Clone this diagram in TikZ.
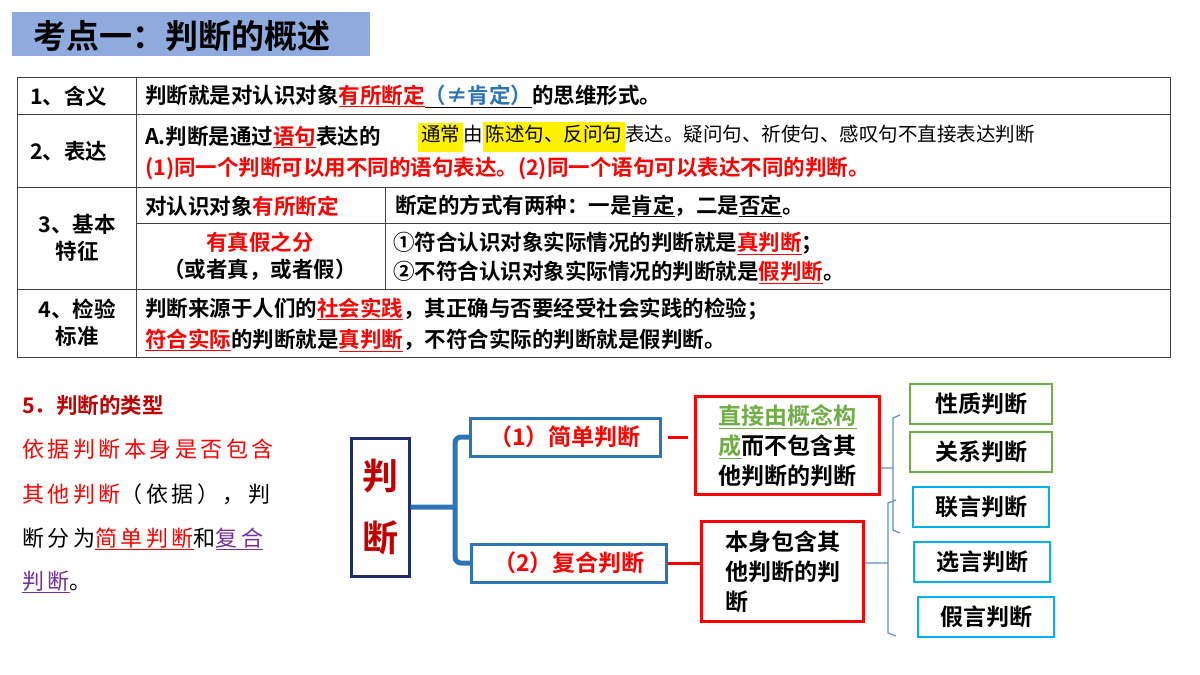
\documentclass[tikz,border=0pt]{standalone}
\usepackage{fontspec}
\setmainfont{Noto Sans CJK SC Bold}
\newfontfamily\cjkb{Noto Sans CJK SC Bold}
\newfontfamily\cjkm{Noto Sans CJK SC}
\newcommand\uline[1]{$\underline{\hbox{#1}}$}
\begin{document}
\begin{tikzpicture}[x=1pt,y=-1pt,
  tx/.style={anchor=west,inner sep=0pt,font=\cjkb\fontsize{21.5}{27}\selectfont},
  ln/.style={line width=1pt,draw=black!75},
  bx/.style={draw,line width=3pt,inner sep=0pt}]
\definecolor{dred}{HTML}{C00000}
\definecolor{rd}{HTML}{FF0000}
\definecolor{bl}{HTML}{2E75B6}
\definecolor{nv}{HTML}{1F2E6E}
\definecolor{gr}{HTML}{70AD47}
\definecolor{cy}{HTML}{00B0F0}
\definecolor{pu}{HTML}{7030A0}
\definecolor{ttl}{HTML}{8FAADC}
\newcommand\ru[1]{\textcolor{rd}{\uline{#1}}}
\newcommand\rr[1]{\textcolor{rd}{#1}}
\useasboundingbox (0,0) rectangle (1200,675);
\fill[white] (0,0) rectangle (1200,675);
% title
\node[fill=ttl,minimum width=358,minimum height=44,anchor=north west,inner sep=0] (ttl) at (12,12) {};
\node[anchor=west,inner sep=0,font=\cjkb\fontsize{33}{36}\selectfont] (ttlt) at (33,36) {考点一：判断的概述};
% table
\draw[ln] (17,77) rectangle (1170,357);
\foreach \y in {114,187,289} \draw[ln] (17,\y) -- (1170,\y);
\draw[ln] (136,223) -- (1170,223);
\draw[ln] (136,77) -- (136,357);
\draw[ln] (385,187) -- (385,289);
\node[tx] (r1) at (30,96) {1、含义};
\node[tx] (r2) at (30,151) {2、表达};
\node[tx,align=center,anchor=center] (r3) at (77,238) {3、基本\\特征};
\node[tx,align=center,anchor=center] (r4) at (77,323) {4、检验\\标准};
\node[tx] (c1) at (145,96) {判断就是对认识对象\ru{有所断定}\uline{\textcolor{bl}{（≠肯定）}}的思维形式。};
\node[tx] (c2a) at (145,137) {A.判断是通过\ru{语句}表达的};
\node[anchor=west,inner sep=0pt,font=\cjkm\fontsize{19.5}{22}\selectfont] (c2b) at (418,137) {\colorbox{yellow}{\strut 通常}由\colorbox{yellow}{\strut 陈述句、反问句}表达。疑问句、祈使句、感叹句不直接表达判断};
\node[tx] (c2c) at (145,168) {\rr{(1)同一个判断可以用不同的语句表达。(2)同一个语句可以表达不同的判断。}};
\node[tx] (c3a) at (145,206) {对认识对象\rr{有所断定}};
\node[tx] (c3b) at (395,206) {断定的方式有两种：一是\uline{肯定}，二是\uline{否定}。};
\node[tx,align=center,anchor=center] (c3c) at (260,256) {\rr{有真假之分}\\（或者真，或者假）};
\node[tx] (c3d) at (393,243) {①符合认识对象实际情况的判断就是\ru{真判断}；};
\node[tx] (c3e) at (393,272) {②不符合认识对象实际情况的判断就是\ru{假判断}。};
\node[tx] (c4a) at (145,309) {判断来源于人们的\ru{社会实践}，其正确与否要经受社会实践的检验；};
\node[tx] (c4b) at (145,340) {\ru{符合实际}的判断就是\ru{真判断}，不符合实际的判断就是假判断。};
% left text
\node[tx,text=dred] (h5) at (22,405) {5．判断的类型};
\begin{scope}[every node/.style={anchor=west,inner sep=0pt,font=\cjkm\fontsize{22}{24}\selectfont\addfontfeature{LetterSpace=16}}]
\node (l1) at (22,449) {\rr{依据判断本身是否包含}};
\node (l2) at (22,494) {\rr{其他判断}（依据），判};
\node (l3) at (22,539) {断分为\ru{简单判断}和\textcolor{pu}{\uline{复合}}};
\node (l4) at (22,582) {\textcolor{pu}{\uline{判断}}。};
\end{scope}
% diagram
\node[bx,draw=nv,minimum width=58,minimum height=138,align=center,text=dred,font=\cjkb\fontsize{36}{62}\selectfont] (pd) at (380,507) {判\\断};
\node[bx,draw=bl,minimum width=190,minimum height=38,text=rd,font=\cjkb\fontsize{23}{26}\selectfont] (s1) at (565,437) {（1）简单判断};
\node[bx,draw=bl,minimum width=195,minimum height=38,text=rd,font=\cjkb\fontsize{23}{26}\selectfont] (s2) at (569,563) {（2）复合判断};
\draw[bl,line width=5pt,rounded corners=6pt] (pd.east) -- (455,507) (470,437) -- (455,437) -- (455,563) -- (470,563);
\node[bx,draw=rd,minimum width=184,minimum height=98,align=left,anchor=north west,inner xsep=8pt,font=\cjkb\fontsize{23}{30}\selectfont] (d1) at (694,395) {\textcolor{gr}{\uline{直接由概念构}}\\\textcolor{gr}{\uline{成}}而不包含其\\他判断的判断};
\node[bx,draw=rd,minimum width=162,minimum height=100,align=left,anchor=north west,inner xsep=4pt,font=\cjkb\fontsize{23}{30}\selectfont] (d2) at (700,520) {本身包含其\\他判断的判\\断};
\draw[rd,line width=3pt] (668,437) -- (688,437);
\draw[rd,line width=3pt] (s2.east) -- (d2.west |- s2.east);
\tikzset{sb/.style={draw,line width=2.5pt,minimum width=142,minimum height=40,font=\cjkb\fontsize{23}{26}\selectfont}}
\node[sb,draw=gr] (g1) at (981,404) {性质判断};
\node[sb,draw=gr] (g2) at (981,452) {关系判断};
\node[sb,draw=cy,minimum width=136] (k1) at (981,507) {联言判断};
\node[sb,draw=cy,minimum width=136] (k2) at (982,562) {选言判断};
\node[sb,draw=cy,minimum width=136] (k3) at (986,617) {假言判断};
\coordinate (b1) at (893,468);
\draw[bl!80,line width=1.2pt] (d1.east |- b1) -- (b1) (900,415) -- (893,418) -- (893,530) -- (900,533);
\coordinate (b2) at (888,563);
\draw[bl!80,line width=1.2pt] (d2.east |- b2) -- (b2) (896,500) -- (888,503) -- (888,633) -- (896,636);
\end{tikzpicture}
\end{document}
